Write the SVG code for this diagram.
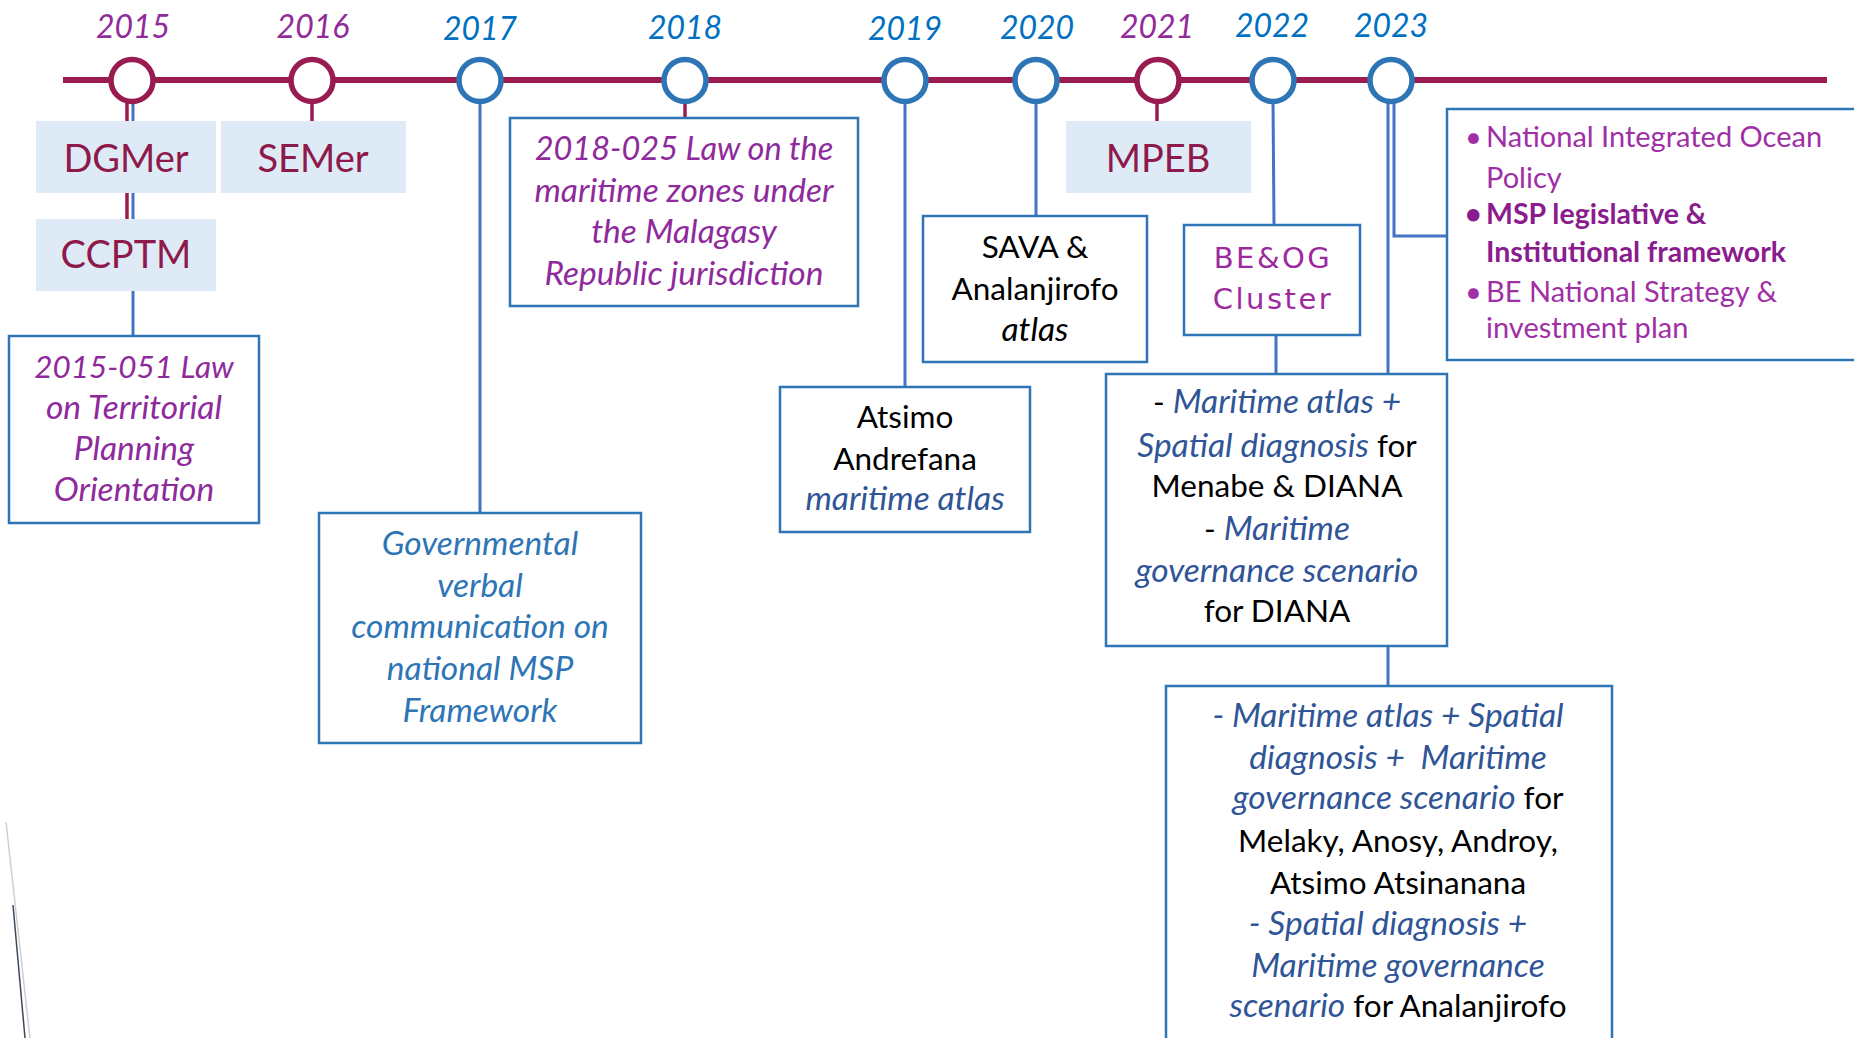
<svg xmlns="http://www.w3.org/2000/svg" width="1854" height="1038" viewBox="0 0 1854 1038">
<style>
.tl{stroke:#991B4F;stroke-width:6;fill:none}
.cr{fill:#fff;stroke:#991B4F;stroke-width:5.5}
.cb{fill:#fff;stroke:#2E75B6;stroke-width:5.5}
.lr{stroke:#991B4F;stroke-width:3.5;fill:none}
.lb{stroke:#4472C4;stroke-width:3;fill:none}
.box{fill:#fff;stroke:#2E75B6;stroke-width:2.5}
.org{fill:#DEEBF7}
text{font-family:Lato,"Open Sans","Liberation Sans",sans-serif}
.yr{font-size:32px;font-style:italic;text-anchor:middle}
.yp{fill:#922B9A}
.yb{fill:#0070C0}
.ot{font-size:38px;fill:#8E1A4B;text-anchor:middle}
.t{font-size:31.5px;text-anchor:middle;fill:#000}
.i{font-style:italic;font-size:33.5px}
.pu{fill:#8E2A9B}
.bl{fill:#2E75B6}
.db{fill:#2F5597}
.hw{font-family:"DejaVu Sans",sans-serif;font-size:29px;fill:#9C2A9E;text-anchor:middle;letter-spacing:2.5px}
.li{font-size:29px;fill:#A02FA6}
.lib{font-size:28.5px;fill:#8A1C8E;font-weight:700}
</style>

<g id="timeline">
<line class="tl" x1="63" y1="80" x2="1827" y2="80"/>
</g>

<g id="connectors">
<line class="lr" x1="127" y1="100" x2="127" y2="121"/>
<line class="lb" x1="133" y1="100" x2="133" y2="121"/>
<line class="lr" x1="127" y1="193" x2="127" y2="219"/>
<line class="lb" x1="133" y1="193" x2="133" y2="219"/>
<line class="lb" x1="133" y1="291" x2="133" y2="336"/>
<line class="lr" x1="312" y1="100" x2="312" y2="121"/>
<line class="lb" x1="480" y1="100" x2="480" y2="513"/>
<line class="lr" x1="685" y1="100" x2="685" y2="118"/>
<line class="lb" x1="905" y1="100" x2="905" y2="387"/>
<line class="lb" x1="1036" y1="100" x2="1036" y2="216"/>
<line class="lr" x1="1157" y1="100" x2="1157" y2="121"/>
<line class="lb" x1="1273" y1="100" x2="1274" y2="225"/>
<line class="lb" x1="1276" y1="335" x2="1276" y2="374"/>
<line class="lb" x1="1388" y1="100" x2="1388" y2="374"/>
<polyline class="lb" points="1394,100 1394,236 1447,236"/>
<line class="lb" x1="1388" y1="646" x2="1388" y2="686"/>
</g>

<g id="years">
<g id="y2015"><circle class="cr" cx="132" cy="80.5" r="21"/><text class="yr yp" x="133" y="38">2015</text></g>
<g id="y2016"><circle class="cr" cx="312" cy="80.5" r="21"/><text class="yr yp" x="313" y="38">2016</text></g>
<g id="y2017"><circle class="cb" cx="480" cy="80.5" r="21"/><text class="yr yb" x="480" y="40">2017</text></g>
<g id="y2018"><circle class="cb" cx="685" cy="80.5" r="21"/><text class="yr yb" x="685" y="39">2018</text></g>
<g id="y2019"><circle class="cb" cx="905" cy="80.5" r="21"/><text class="yr yb" x="905" y="40">2019</text></g>
<g id="y2020"><circle class="cb" cx="1036" cy="80.5" r="21"/><text class="yr yb" x="1037" y="39">2020</text></g>
<g id="y2021"><circle class="cr" cx="1158" cy="80.5" r="21"/><text class="yr yp" x="1157" y="38">2021</text></g>
<g id="y2022"><circle class="cb" cx="1273" cy="80.5" r="21"/><text class="yr yb" x="1272" y="37">2022</text></g>
<g id="y2023"><circle class="cb" cx="1391" cy="80.5" r="21"/><text class="yr yb" x="1391" y="37">2023</text></g>
</g>

<g id="dgmer"><rect class="org" x="36" y="121" width="180" height="72"/><text class="ot" x="126" y="172">DGMer</text></g>
<g id="semer"><rect class="org" x="221" y="121" width="185" height="72"/><text class="ot" x="313" y="172">SEMer</text></g>
<g id="ccptm"><rect class="org" x="36" y="219" width="180" height="72"/><text class="ot" x="126" y="268">CCPTM</text></g>
<g id="mpeb"><rect class="org" x="1066" y="121" width="185" height="72"/><text class="ot" x="1158" y="172">MPEB</text></g>

<g id="law2015"><rect class="box" x="9" y="336" width="250" height="187"/>
<text class="t i pu" x="134"><tspan x="134" y="378" style="font-size:31.5px">2015-051 Law</tspan><tspan x="134" y="419">on Territorial</tspan><tspan x="134" y="460">Planning</tspan><tspan x="134" y="501">Orientation</tspan></text></g>

<g id="gov2017"><rect class="box" x="319" y="513" width="322" height="230"/>
<text class="t i bl" x="480"><tspan x="480" y="555">Governmental</tspan><tspan x="480" y="597">verbal</tspan><tspan x="480" y="638">communication on</tspan><tspan x="480" y="680">national MSP</tspan><tspan x="480" y="722">Framework</tspan></text></g>

<g id="law2018"><rect class="box" x="510" y="118" width="348" height="188"/>
<text class="t i pu" x="684"><tspan x="684" y="160" style="font-size:32.5px">2018-025 Law on the</tspan><tspan x="684" y="202">maritime zones under</tspan><tspan x="684" y="243">the Malagasy</tspan><tspan x="684" y="285">Republic jurisdiction</tspan></text></g>

<g id="atsimo"><rect class="box" x="780" y="387" width="250" height="145"/>
<text class="t" x="905"><tspan x="905" y="428">Atsimo</tspan><tspan x="905" y="470">Andrefana</tspan><tspan x="905" y="510" class="i db">maritime atlas</tspan></text></g>

<g id="sava"><rect class="box" x="923" y="216" width="224" height="146"/>
<text class="t" x="1035"><tspan x="1035" y="258">SAVA &amp;</tspan><tspan x="1035" y="300">Analanjirofo</tspan><tspan x="1035" y="341" class="i">atlas</tspan></text></g>

<g id="beog"><rect class="box" x="1184" y="225" width="176" height="110"/>
<text class="hw"><tspan x="1273" y="268">BE&amp;OG</tspan><tspan x="1273" y="309">Cluster</tspan></text></g>

<g id="menabe"><rect class="box" x="1106" y="374" width="341" height="272"/>
<text class="t"><tspan x="1277" y="413">- <tspan class="i db">Maritime atlas +</tspan></tspan></text>
<text class="t"><tspan x="1277" y="457"><tspan class="i db">Spatial diagnosis</tspan> for</tspan></text>
<text class="t" x="1277" y="497">Menabe &amp; DIANA</text>
<text class="t"><tspan x="1277" y="540">- <tspan class="i db">Maritime</tspan></tspan></text>
<text class="t i db" x="1277" y="582">governance scenario</text>
<text class="t" x="1277" y="622">for DIANA</text>
</g>

<g id="regions"><rect class="box" x="1166" y="686" width="446" height="370"/>
<text class="t i db" x="1388" y="727">- Maritime atlas + Spatial</text>
<text class="t i db" x="1398" y="769" xml:space="preserve">diagnosis +  Maritime</text>
<text class="t"><tspan x="1398" y="809"><tspan class="i db">governance scenario</tspan> for</tspan></text>
<text class="t" x="1398" y="852">Melaky, Anosy, Androy,</text>
<text class="t" x="1398" y="894">Atsimo Atsinanana</text>
<text class="t i db" x="1388" y="935">- Spatial diagnosis +</text>
<text class="t i db" x="1398" y="977">Maritime governance</text>
<text class="t"><tspan x="1398" y="1017"><tspan class="i db">scenario</tspan> for Analanjirofo</tspan></text>
</g>

<g id="policy2023"><rect class="box" x="1447" y="109" width="420" height="251"/>
<text class="li" x="1465" y="147">•</text><text class="li" x="1486" y="147">National Integrated Ocean</text>
<text class="li" x="1486" y="188">Policy</text>
<text class="lib" x="1465" y="224">•</text><text class="lib" x="1486" y="224">MSP legislative &amp;</text>
<text class="lib" x="1486" y="262">Institutional framework</text>
<text class="li" x="1465" y="302">•</text><text class="li" x="1486" y="302">BE National Strategy &amp;</text>
<text class="li" x="1486" y="338">investment plan</text>
</g>

<g id="edge-fragment">
<line x1="6" y1="822" x2="30" y2="1038" stroke="#cfcfcf" stroke-width="1.5"/>
<line x1="13" y1="905" x2="25" y2="1038" stroke="#3a4a5a" stroke-width="1.5"/>
</g>
</svg>
